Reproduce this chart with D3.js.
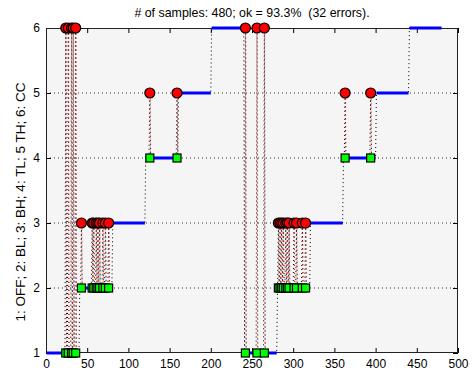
<!DOCTYPE html>
<html>
<head>
<meta charset="utf-8">
<script src="https://cdn.jsdelivr.net/npm/d3@7/dist/d3.min.js"></script>
<style>
  body { margin: 0; background: #fff; }
  svg { display: block; }
  text { font-family: "Liberation Sans", Arial, Helvetica, sans-serif; fill: #000; }
</style>
</head>
<body>
<svg id="chart" width="473" height="374"></svg>
<script>
// Ground-truth class for each block of samples (1-based, inclusive)
const segStart = [1, 41, 81, 121, 161, 201, 241, 281, 321, 361, 401, 441];
const segEnd   = [40, 80, 120, 160, 200, 240, 280, 320, 360, 400, 440, 480];
const segClass = [1, 2, 3, 4, 5, 6, 1, 2, 3, 4, 5, 6];

// Misclassified samples: sample index, true class, predicted class
const errIdx  = [24, 27, 31, 33, 36,
                 43, 56, 58, 61, 63, 65, 69, 72, 76,
                 126, 159,
                 242, 256, 265,
                 282, 284, 286, 288, 291, 293, 295, 301, 304, 311, 315,
                 363, 394];
const errTrue = [1, 1, 1, 1, 1,
                 2, 2, 2, 2, 2, 2, 2, 2, 2,
                 4, 4,
                 1, 1, 1,
                 2, 2, 2, 2, 2, 2, 2, 2, 2, 2, 2,
                 4, 4];
const errPred = [6, 6, 6, 6, 6,
                 3, 3, 3, 3, 3, 3, 3, 3, 3,
                 5, 5,
                 6, 6, 6,
                 3, 3, 3, 3, 3, 3, 3, 3, 3, 3, 3,
                 5, 5];

const nSamples = 480;
const xTicks = [0, 50, 100, 150, 200, 250, 300, 350, 400, 450, 500];
const yTicks = [1, 2, 3, 4, 5, 6];
const yLabelText = "1: OFF; 2: BL; 3: BH; 4: TL; 5 TH; 6: CC";

const plotL = 46, plotR = 458, plotT = 28, plotB = 353;

const svg = d3.select("#chart");
const x = d3.scaleLinear().domain([0, 500]).range([plotL, plotR]);
const y = d3.scaleLinear().domain([1, 6]).range([plotB, plotT]);

// predicted class per sample: the true class, overridden at the errors
const pred = [];
segStart.forEach((s, k) => {
  for (let i = s; i <= segEnd[k]; i++) pred.push({ i, c: segClass[k] });
});
errIdx.forEach((idx, k) => { pred[idx - 1].c = errPred[k]; });

// plot area background
svg.append("rect")
  .attr("x", plotL).attr("y", plotT)
  .attr("width", plotR - plotL).attr("height", plotB - plotT)
  .attr("fill", "#f5f5f5");

// horizontal dotted grid
svg.append("g").selectAll("line")
  .data(yTicks.slice(1, -1))
  .join("line")
  .attr("x1", plotL).attr("x2", plotR)
  .attr("y1", d => y(d)).attr("y2", d => y(d))
  .attr("stroke", "#333").attr("stroke-width", 1)
  .attr("stroke-dasharray", "1,3");

// axes with inward ticks on all four sides
const axStyle = g => {
  g.selectAll(".domain").remove();
  g.selectAll(".tick line").attr("stroke", "#000");
  g.selectAll("text").attr("font-size", "12px")
    .attr("font-family", '"Liberation Sans", Arial, sans-serif');
};
svg.append("g").attr("transform", `translate(0,${plotB})`)
  .call(d3.axisBottom(x).tickValues(xTicks).tickFormat(d3.format("d")).tickSize(-5).tickPadding(6))
  .call(axStyle);
svg.append("g").attr("transform", `translate(0,${plotT})`)
  .call(d3.axisTop(x).tickValues(xTicks).tickSize(-5).tickFormat(""))
  .call(axStyle);
svg.append("g").attr("transform", `translate(${plotL},0)`)
  .call(d3.axisLeft(y).tickValues(yTicks).tickFormat(d3.format("d")).tickSize(-5).tickPadding(6))
  .call(axStyle);
svg.append("g").attr("transform", `translate(${plotR},0)`)
  .call(d3.axisRight(y).tickValues(yTicks).tickSize(-5).tickFormat(""))
  .call(axStyle);

// axes box
svg.append("rect")
  .attr("x", plotL + 0.5).attr("y", plotT + 0.5)
  .attr("width", plotR - plotL - 1).attr("height", plotB - plotT - 1)
  .attr("fill", "none").attr("stroke", "#222").attr("stroke-width", 1);

// predicted class as a dotted black trace
svg.append("path")
  .datum(pred)
  .attr("d", d3.line().x(d => x(d.i)).y(d => y(d.c)))
  .attr("fill", "none").attr("stroke", "#000").attr("stroke-width", 1)
  .attr("stroke-dasharray", "1,3");

// true class as thick blue segments
svg.append("g").selectAll("line")
  .data(segClass.map((c, k) => ({ s: segStart[k], e: segEnd[k], c })))
  .join("line")
  .attr("x1", d => x(d.s)).attr("x2", d => x(d.e))
  .attr("y1", d => y(d.c)).attr("y2", d => y(d.c))
  .attr("stroke", "#0000ff").attr("stroke-width", 3);

const errs = errIdx.map((idx, k) => ({ idx, t: errTrue[k], p: errPred[k] }));

// red dotted connectors between true and predicted class
svg.append("g").selectAll("line")
  .data(errs)
  .join("line")
  .attr("x1", d => x(d.idx) + 0.5).attr("x2", d => x(d.idx) + 0.5)
  .attr("y1", d => y(d.t)).attr("y2", d => y(d.p))
  .attr("stroke", "#ff3030").attr("stroke-width", 1)
  .attr("stroke-dasharray", "1.5,2.5").attr("stroke-dashoffset", 2)
  .attr("opacity", 0.7);

// true class at the errors: green squares
const sq = 8;
svg.append("g").selectAll("rect")
  .data(errs)
  .join("rect")
  .attr("x", d => x(d.idx) - sq / 2).attr("y", d => y(d.t) - sq / 2)
  .attr("width", sq).attr("height", sq)
  .attr("fill", "#00ff00").attr("stroke", "#000").attr("stroke-width", 1.2);

// predicted class at the errors: red circles
svg.append("g").selectAll("circle")
  .data(errs)
  .join("circle")
  .attr("cx", d => x(d.idx)).attr("cy", d => y(d.p))
  .attr("r", 5)
  .attr("fill", "#ff0000").attr("stroke", "#000").attr("stroke-width", 1.2);

// title
const okPct = (100 * (nSamples - errIdx.length) / nSamples).toFixed(1);
svg.append("text")
  .attr("x", (plotL + plotR) / 2).attr("y", 17)
  .attr("text-anchor", "middle")
  .attr("font-size", "12.4px")
  .style("white-space", "pre")
  .text(`# of samples: ${nSamples}; ok = ${okPct}%  (${errIdx.length} errors).`);

// y-axis label
svg.append("text")
  .attr("transform", "translate(25,202) rotate(-90)")
  .attr("text-anchor", "middle")
  .attr("font-size", "13.5px")
  .text(yLabelText);
</script>
</body>
</html>
